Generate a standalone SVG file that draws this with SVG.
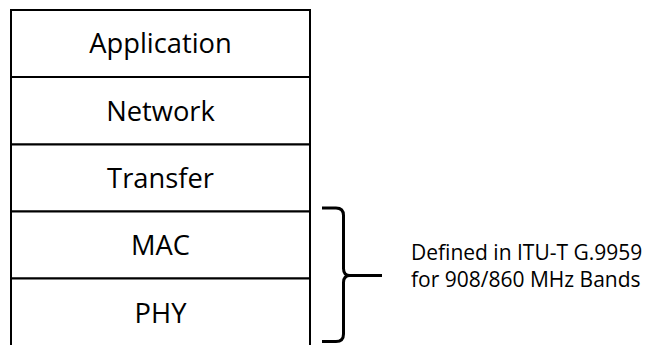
<svg xmlns="http://www.w3.org/2000/svg" width="647" height="345" viewBox="0 0 647 345">
  <style>
    .box { fill: #ffffff; stroke: #000000; stroke-width: 2; }
    .lbl { font-family: "Open Sans", "Liberation Sans", sans-serif; font-size: 27.3px; fill: #000000; text-anchor: middle; }
    .note { font-family: "Open Sans", "Liberation Sans", sans-serif; font-size: 21px; fill: #000000; }
    .brace { fill: none; stroke: #000000; stroke-width: 3; stroke-linecap: butt; stroke-linejoin: round; }
  </style>
  <rect x="0" y="0" width="647" height="345" fill="#ffffff"/>
  <g id="application">
    <rect class="box" x="11" y="10" width="299" height="67"/>
    <text class="lbl" x="160.5" y="53.3">Application</text>
  </g>
  <g id="network">
    <rect class="box" x="11" y="77" width="299" height="67.5"/>
    <text class="lbl" x="160.5" y="120.7">Network</text>
  </g>
  <g id="transfer">
    <rect class="box" x="11" y="144.5" width="299" height="67"/>
    <text class="lbl" x="160.5" y="187.5">Transfer</text>
  </g>
  <g id="mac">
    <rect class="box" x="11" y="211.5" width="299" height="67"/>
    <text class="lbl" x="160.5" y="255">MAC</text>
  </g>
  <g id="phy">
    <rect class="box" x="11" y="278.5" width="299" height="70"/>
    <text class="lbl" x="160.5" y="322.5">PHY</text>
  </g>
  <g id="connectors">
    <path class="brace" d="M322,208 H336 Q343.5,208 343.5,215.5 V268.5 Q343.5,275.5 350,275.5 H382 M350,275.5 Q343.5,275.5 343.5,282.5 V334 Q343.5,341.5 336,341.5 H322"/>
  </g>
  <g id="note">
    <text class="note" x="411" y="259.5">Defined in ITU-T G.9959</text>
    <text class="note" x="411" y="286.5">for 908/860 MHz Bands</text>
  </g>
</svg>
